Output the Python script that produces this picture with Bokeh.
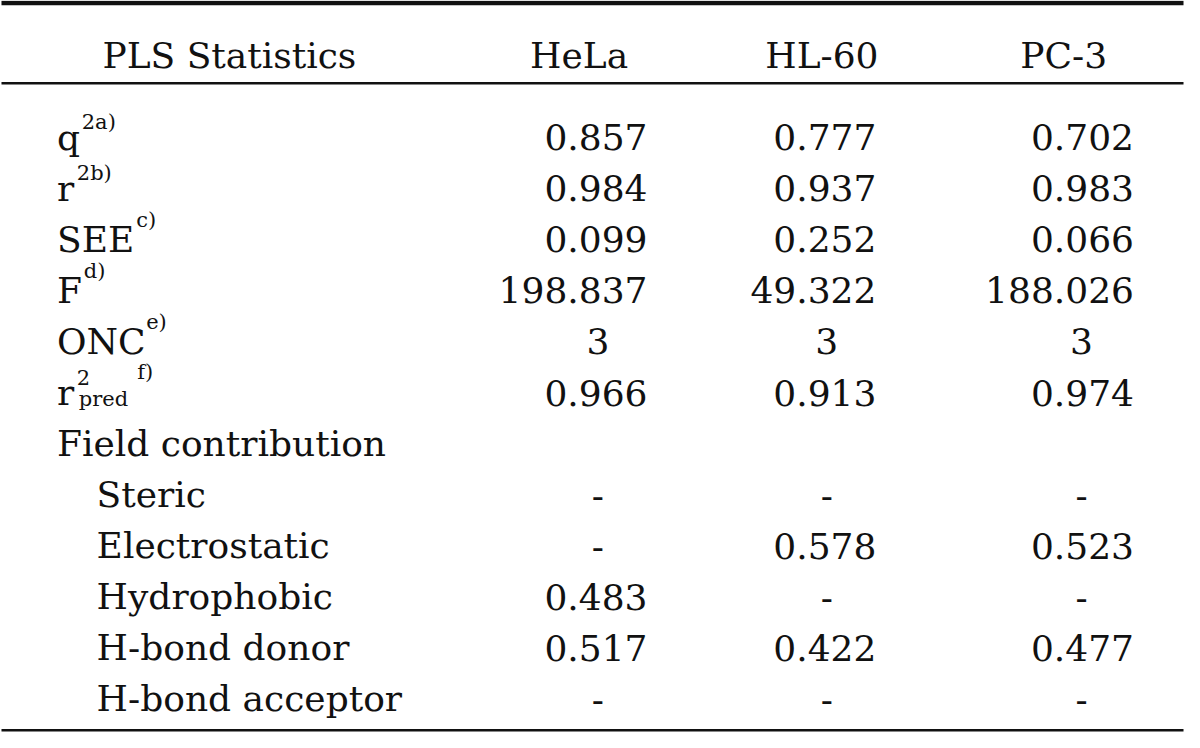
from bokeh.plotting import figure
from bokeh.models import Range1d, ColumnDataSource
from bokeh.core.properties import value
from bokeh.embed import file_html
from bokeh.resources import INLINE

# ---------------- data ----------------
stub_header = "PLS Statistics"
col_headers = ["HeLa", "HL-60", "PC-3"]
row_labels = ["q", "r", "SEE", "F", "ONC", "r", "Field contribution",
              "Steric", "Electrostatic", "Hydrophobic", "H-bond donor", "H-bond acceptor"]
row_indent = [0, 0, 0, 0, 0, 0, 0, 1, 1, 1, 1, 1]
sup_notes = ["2a)", "2b)", "c)", "d)", "e)", "2", "", "", "", "", "", ""]
hela = ["0.857", "0.984", "0.099", "198.837", "3", "0.966", "", "-", "-", "0.483", "0.517", "-"]
hl60 = ["0.777", "0.937", "0.252", "49.322", "3", "0.913", "", "-", "0.578", "-", "0.422", "-"]
pc3 = ["0.702", "0.983", "0.066", "188.026", "3", "0.974", "", "-", "0.523", "-", "0.477", "-"]
pred_sub = "pred"
pred_note = "f)"

# ---------------- layout (reference pixel space) ----------------
FONT = "DejaVu Serif"
MAIN = "36px"
SMALL = "21px"
LABEL_X = 60
INDENT = 40
BASE0 = 140.0
STEP = 51.5
HEADER_BASE = 57
header_center = [587, 832, 1076]
col_center = [606, 837, 1094]
col_right = [656, 887, 1147]
sup_x = [85, 80, 140, 87, 150, 80]
sup_dy = [-15, -15, -20, -20, -20, -15]

p = figure(width=1184, height=732, output_backend="svg", toolbar_location=None,
           x_range=Range1d(3, 1198), y_range=Range1d(740.5, 2),
           x_axis_location=None, y_axis_location=None, min_border=0)
p.grid.visible = False
p.outline_line_color = None
p.background_fill_color = "white"
p.border_fill_color = "white"

# rules
p.segment(x0=[4], x1=[1197], y0=[4.6], y1=[4.6], line_width=4.5, line_color="#111111")
p.segment(x0=[4, 4], x1=[1197, 1197], y0=[85.5, 738.2], y1=[85.5, 738.2],
          line_width=2.5, line_color="#111111")

def txt(xs, ys, texts, size, align="left"):
    src = ColumnDataSource(dict(x=xs, y=ys, t=texts))
    p.text(x="x", y="y", text="t", source=src, text_font=value(FONT),
           text_font_size=value(size), text_align=align, text_baseline="alphabetic",
           text_color="#111111")

# header
txt([234], [HEADER_BASE], [stub_header], MAIN, "center")
txt(header_center, [HEADER_BASE] * 3, col_headers, MAIN, "center")

# row labels
base = [BASE0 + STEP * i for i in range(len(row_labels))]
txt([LABEL_X + INDENT * k for k in row_indent], base, row_labels, MAIN, "left")

# superscripts
sx, sy, st = [], [], []
for i, note in enumerate(sup_notes):
    if note:
        sx.append(sup_x[i])
        sy.append(base[i] + sup_dy[i])
        st.append(note)
txt(sx, sy, st, SMALL, "left")
# r^2_pred f)
txt([82], [base[5] + 7], [pred_sub], SMALL, "left")
txt([141], [base[5] - 21], [pred_note], SMALL, "left")

# values
for j, col in enumerate([hela, hl60, pc3]):
    rx, ry, rt = [], [], []
    cx, cy, ct = [], [], []
    for i, v in enumerate(col):
        if not v:
            continue
        if "." in v:
            rx.append(col_right[j]); ry.append(base[i]); rt.append(v)
        else:
            cx.append(col_center[j]); cy.append(base[i]); ct.append(v)
    txt(rx, ry, rt, MAIN, "right")
    txt(cx, cy, ct, MAIN, "center")

open("out.html", "w").write(file_html(p, INLINE, title="PLS Statistics"))
